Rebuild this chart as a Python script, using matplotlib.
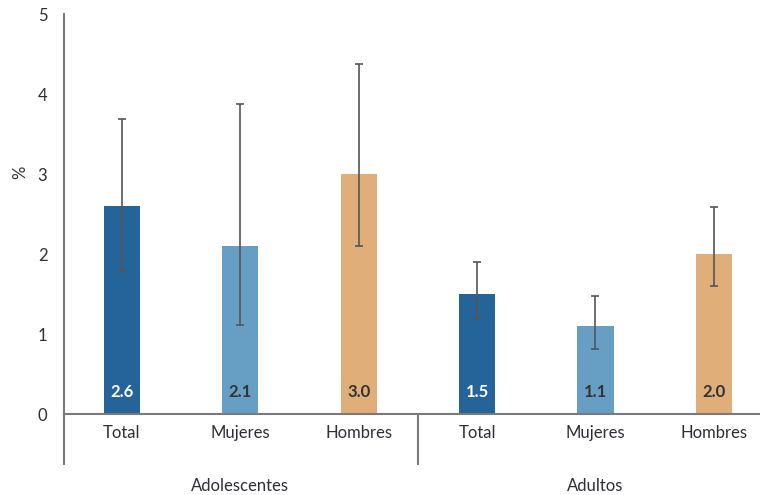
import matplotlib
matplotlib.use("Agg")
import matplotlib.pyplot as plt
import numpy as np

# Data
groups = ["Adolescentes", "Adultos"]
categories = ["Total", "Mujeres", "Hombres", "Total", "Mujeres", "Hombres"]
values = [2.6, 2.1, 3.0, 1.5, 1.1, 2.0]
ci_low = [1.79, 1.11, 2.10, 1.19, 0.81, 1.60]
ci_high = [3.69, 3.87, 4.38, 1.90, 1.48, 2.59]
value_labels = ["2.6", "2.1", "3.0", "1.5", "1.1", "2.0"]
yticks = [0, 1, 2, 3, 4, 5]

colors = ["#256499", "#679fc4", "#e0ae78"] * 2
label_colors = ["white", "#333333", "#333333"] * 2
text_color = "#2e2e38"

plt.rcParams["font.family"] = ["Lato", "DejaVu Sans"]

fig = plt.figure(figsize=(7.6, 4.95), dpi=100)
ax = fig.add_axes([0.0842, 0.1636, 0.9158, 0.8081])

x = np.arange(len(values))
vals = np.array(values)
yerr = np.array([vals - np.array(ci_low), np.array(ci_high) - vals])

ax.bar(x, vals, width=0.305, color=colors, zorder=2)
ax.errorbar(x, vals, yerr=yerr, fmt="none", ecolor="#555555",
            elinewidth=1.2, capsize=3, capthick=1.2, zorder=3)

for xi, lab, c in zip(x, value_labels, label_colors):
    ax.text(xi, 0.27, lab, ha="center", va="center", fontsize=12,
            fontweight="bold", color=c, zorder=4)

ax.set_xlim(-0.49, 5.39)
ax.set_ylim(0, 5)
ax.set_yticks(yticks)
ax.set_yticklabels([str(t) for t in yticks], fontsize=12, color=text_color)
ax.tick_params(axis="y", length=0, pad=12)
ax.set_xticks(x)
ax.set_xticklabels(categories, fontsize=12, color=text_color)
ax.tick_params(axis="x", length=0, pad=8)

for s in ["top", "right"]:
    ax.spines[s].set_visible(False)
for s in ["left", "bottom"]:
    ax.spines[s].set_color("#7a7a7a")
    ax.spines[s].set_linewidth(1.5)

# Extend left spine and group separator below the axis
ax.plot([-0.49, -0.49], [0, -0.64], color="#7a7a7a", lw=1.5,
        clip_on=False, solid_capstyle="butt")
ax.plot([2.5, 2.5], [0, -0.64], color="#7a7a7a", lw=1.5,
        clip_on=False, solid_capstyle="butt")

# Group labels
for gi, g in enumerate(groups):
    ax.text(1 + 3 * gi, -0.9, g, ha="center", va="center", fontsize=12,
            color=text_color, clip_on=False)

# Axis unit label
ax.text(-0.063, 0.605, "%", transform=ax.transAxes, rotation=90,
        ha="center", va="center", fontsize=12, color=text_color)

fig.savefig("out.png", dpi=100)
